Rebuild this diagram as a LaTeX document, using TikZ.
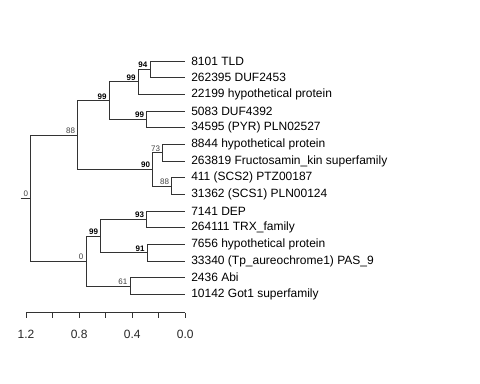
\documentclass[tikz,border=0pt]{standalone}
\usepackage{fontspec}
\setmainfont{Liberation Sans}
\usetikzlibrary{positioning}

\begin{document}
\begin{tikzpicture}[x=0.75pt, y=-0.75pt,
  branch/.style={draw=black!80, line width=0.6pt},
  leaf/.style={anchor=west, inner sep=0pt, font=\fontsize{9}{10}\selectfont},
  boot/.style={anchor=south east, inner sep=0.8pt, xshift=-1pt, font=\fontsize{6}{7}\selectfont\bfseries},
  bootlo/.style={anchor=south east, inner sep=0.8pt, xshift=-1pt, font=\fontsize{6}{7}\selectfont, text=black!75},
  axlab/.style={font=\fontsize{9}{10}\selectfont, text=black!85}]

\useasboundingbox (0,0) rectangle (480,384);

% ===== LEAVES =====
\foreach \i/\txt in {0/8101 TLD, 1/262395 DUF2453, 2/22199 hypothetical protein,
    3/5083 DUF4392, 4/34595 (PYR) PLN02527, 5/8844 hypothetical protein,
    6/263819 Fructosamin\_kin superfamily, 7/411 (SCS2) PTZ00187,
    8/31362 (SCS1) PLN00124, 9/7141 DEP, 10/264111 TRX\_family,
    11/7656 hypothetical protein, 12/33340 (Tp\_aureochrome1) PAS\_9,
    13/2436 Abi, 14/10142 Got1 superfamily}{
  \coordinate (t\i) at (185, 61+16.67*\i);
  \node[leaf] (lab\i) at (191, 61+16.67*\i) {\txt};
}

% ===== INTERNAL NODES =====
\coordinate (n94) at (150, 69.3);
\coordinate (n99a) at (138.3, 81.8);
\coordinate (n99b) at (146.7, 119.3);
\coordinate (n99c) at (109.3, 100.6);
\coordinate (n73) at (162.7, 152.7);
\coordinate (n88b) at (171.7, 186);
\coordinate (n90) at (152.7, 169.3);
\coordinate (n88) at (77.7, 135);
\coordinate (n93) at (146.7, 219.3);
\coordinate (n91) at (147.3, 252.7);
\coordinate (n99d) at (100.7, 236);
\coordinate (n61) at (130, 286);
\coordinate (n0b) at (86, 261);
\coordinate (root) at (30.7, 198);
\coordinate (stub) at (20.7, 198);

% ===== BRANCHES =====
\draw[branch] (n94) |- (t0) (n94) |- (t1);
\draw[branch] (n99a) |- (n94) (n99a) |- (t2);
\draw[branch] (n99b) |- (t3) (n99b) |- (t4);
\draw[branch] (n99c) |- (n99a) (n99c) |- (n99b);
\draw[branch] (n73) |- (t5) (n73) |- (t6);
\draw[branch] (n88b) |- (t7) (n88b) |- (t8);
\draw[branch] (n90) |- (n73) (n90) |- (n88b);
\draw[branch] (n88) |- (n99c) (n88) |- (n90);
\draw[branch] (n93) |- (t9) (n93) |- (t10);
\draw[branch] (n91) |- (t11) (n91) |- (t12);
\draw[branch] (n99d) |- (n93) (n99d) |- (n91);
\draw[branch] (n61) |- (t13) (n61) |- (t14);
\draw[branch] (n0b) |- (n99d) (n0b) |- (n61);
\draw[branch] (root) |- (n88) (root) |- (n0b);
\draw[branch] (stub) -- (root);

% bootstrap values
\node[boot] (b94) at (n94) {94};
\node[boot] (b99a) at (n99a) {99};
\node[boot] (b99b) at (n99b) {99};
\node[boot] (b99c) at (n99c) {99};
\node[bootlo] (b73) at (n73) {73};
\node[bootlo] (b88b) at (n88b) {88};
\node[boot] (b90) at (n90) {90};
\node[bootlo] (b88) at (n88) {88};
\node[boot] (b93) at (n93) {93};
\node[boot] (b91) at (n91) {91};
\node[boot] (b99d) at (n99d) {99};
\node[bootlo] (b61) at (n61) {61};
\node[bootlo] (b0b) at (n0b) {0};
\node[bootlo] (b0) at (root) {0};

% ===== SCALE AXIS =====
\coordinate (axL) at (26, 312.7);
\coordinate (axR) at (185.3, 312.7);
\draw[branch] (axL) -- (axR);
\foreach \k in {0,...,6}
  \draw[branch] (26+26.55*\k, 312.7) -- ++(0,5.5);
\foreach \k/\v in {0/1.2, 2/0.8, 4/0.4, 6/0.0}
  \node[axlab] (ax\k) at (26+26.55*\k, 334) {\v};
\end{tikzpicture}
\end{document}
